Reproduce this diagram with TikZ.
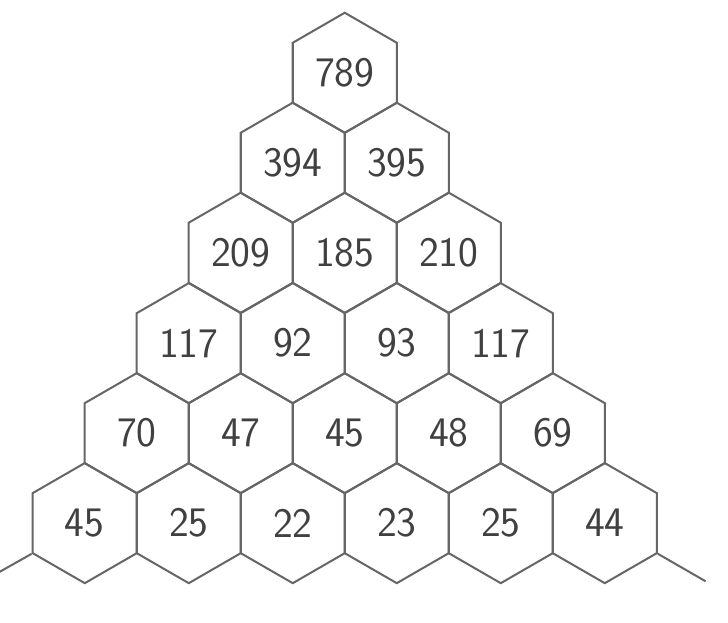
\documentclass[tikz,border=0pt]{standalone}
\usetikzlibrary{shapes.geometric}

\begin{document}
\begin{tikzpicture}[cell/.style = {draw=black!60, line width=1.1pt, regular polygon, regular polygon sides=6,
                        shape border rotate=30, minimum size=2.31cm, inner sep=0pt,
                        text=black!75, font=\sffamily\fontsize{23}{23}\selectfont}]
            \useasboundingbox (-6.63,-10.58) rectangle (7.37,1.40);

            % Row 1
            \node [cell] (c11) at (0,0) {789};

            % Row 2
            \node [cell] (c21) at (-1,-1.73) {394};
            \node [cell] (c22) at (1,-1.73)  {395};

            % Row 3
            \node [cell] (c31) at (-2,-3.46) {209};
            \node [cell] (c32) at (0,-3.46)  {185};
            \node [cell] (c33) at (2,-3.46)  {210};

            % Row 4
            \node [cell] (c41) at (-3,-5.20) {117};
            \node [cell] (c42) at (-1,-5.20) {92};
            \node [cell] (c43) at (1,-5.20)  {93};
            \node [cell] (c44) at (3,-5.20)  {117};

            % Row 5
            \node [cell] (c51) at (-4,-6.93) {70};
            \node [cell] (c52) at (-2,-6.93) {47};
            \node [cell] (c53) at (0,-6.93)  {45};
            \node [cell] (c54) at (2,-6.93)  {48};
            \node [cell] (c55) at (4,-6.93)  {69};

            % Row 6
            \node [cell] (c61) at (-5,-8.66) {45};
            \node [cell] (c62) at (-3,-8.66) {25};
            \node [cell] (c63) at (-1,-8.66) {22};
            \node [cell] (c64) at (1,-8.66)  {23};
            \node [cell] (c65) at (3,-8.66)  {25};
            \node [cell] (c66) at (5,-8.66)  {44};

            % loose strokes at the base
            \draw [black!60, line width=1.1pt] (c61.210) -- ++(-0.62,-0.35);
            \draw [black!60, line width=1.1pt] (c66.-30) -- ++(0.92,-0.53);
        \end{tikzpicture}
\end{document}
